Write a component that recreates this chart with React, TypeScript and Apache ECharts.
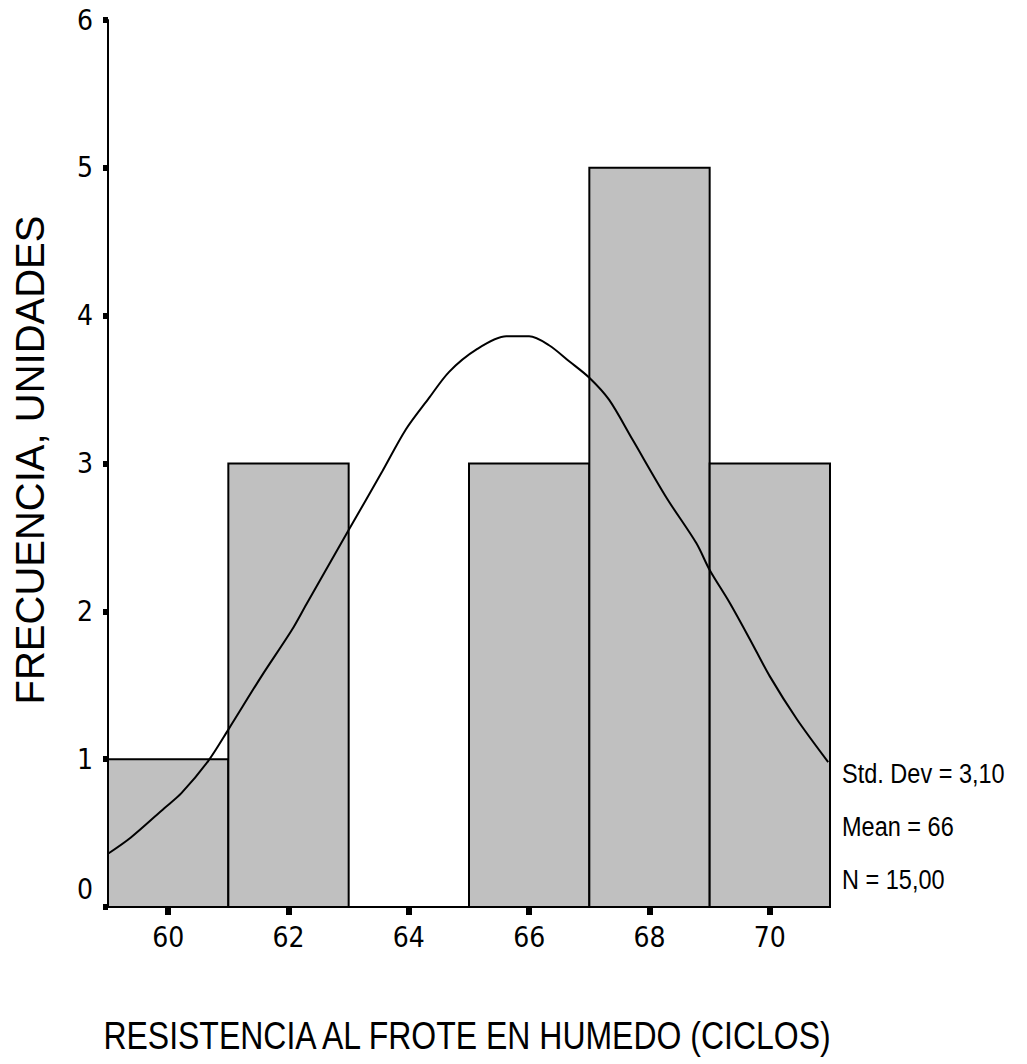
import React, { useEffect, useRef } from "react";
import * as echarts from "echarts";

// Histogram bins: [start, end]
const binStarts = [59, 61, 63, 65, 67, 69];
const binEnds = [61, 63, 65, 67, 69, 71];
const binCounts = [1, 3, 0, 3, 5, 3];

// Fitted normal curve
const curveX = [59.0, 59.38, 59.94, 60.22, 60.67, 61.0, 61.55, 62.05, 62.3, 63.0, 63.55, 63.95, 64.33, 64.67, 65.12, 65.62, 66.0, 66.33, 66.67, 67.0, 67.33, 67.72, 68.28, 68.78, 69.0, 69.33, 69.67, 70.0, 70.45, 70.97];
const curveY = [0.36, 0.47, 0.67, 0.77, 0.99, 1.2, 1.56, 1.87, 2.05, 2.55, 2.94, 3.23, 3.44, 3.62, 3.77, 3.86, 3.86, 3.8, 3.69, 3.58, 3.43, 3.16, 2.77, 2.46, 2.28, 2.06, 1.81, 1.56, 1.27, 0.98];

const xTicks = [60, 62, 64, 66, 68, 70];
const yTicks = [0, 1, 2, 3, 4, 5, 6];

const statsLines = ["Std. Dev = 3,10", "Mean = 66", "N = 15,00"];
const xTitle = "RESISTENCIA AL FROTE EN HUMEDO (CICLOS)";
const yTitle = "FRECUENCIA, UNIDADES";

const NARROW = "'Liberation Sans Narrow', 'Arial Narrow', 'DejaVu Sans Condensed', 'Liberation Sans', sans-serif";
const REGULAR = "'Liberation Sans', Arial, sans-serif";

export default function App() {
  const ref = useRef<HTMLDivElement>(null);
  useEffect(() => {
    if (!ref.current) return;
    const chart = echarts.init(ref.current, undefined, { renderer: "svg" });
    const barData = binStarts.map((s, i) => [s, binEnds[i], binCounts[i]]);
    const lineData = curveX.map((x, i) => [x, curveY[i]]);
    chart.setOption({
      animation: false,
      backgroundColor: "#ffffff",
      grid: { left: 108, right: 197, top: 20, bottom: 157, containLabel: false },
      xAxis: {
        type: "value",
        min: 59,
        max: 71,
        splitLine: { show: false },
        axisLine: { show: true, onZero: false, lineStyle: { color: "#000", width: 2 } },
        axisTick: { show: true, length: 8, customValues: xTicks, lineStyle: { color: "#000", width: 6 } },
        axisLabel: { customValues: xTicks, color: "#000", fontSize: 28, fontFamily: NARROW, margin: 16 },
      },
      yAxis: {
        type: "value",
        min: 0,
        max: 6,
        interval: 1,
        splitLine: { show: false },
        axisLine: { show: true, lineStyle: { color: "#000", width: 2 } },
        axisTick: { show: true, length: 5, lineStyle: { color: "#000", width: 6 } },
        axisLabel: {
          color: "#000",
          fontSize: 28,
          fontFamily: NARROW,
          margin: 15,
          formatter: (v: number) => (v === 0 ? "{z|0}" : yTicks.includes(v) ? String(v) : ""),
          rich: { z: { fontSize: 28, fontFamily: NARROW, color: "#000", padding: [0, 0, 36, 0] } },
        },
      },
      series: [
        {
          type: "custom",
          data: barData,
          z: 2,
          renderItem: (params: any, api: any) => {
            const s = api.value(0);
            const e = api.value(1);
            const c = api.value(2);
            if (!c) return null;
            const p0 = api.coord([s, c]);
            const p1 = api.coord([e, 0]);
            return {
              type: "rect",
              shape: { x: p0[0], y: p0[1], width: p1[0] - p0[0], height: p1[1] - p0[1] },
              style: { fill: "#c0c0c0", stroke: "#000", lineWidth: 2 },
            };
          },
          encode: { x: [0, 1], y: 2 },
        },
        {
          type: "line",
          data: lineData,
          z: 3,
          smooth: 0.3,
          showSymbol: false,
          symbol: "none",
          lineStyle: { color: "#000", width: 2 },
        },
      ],
      graphic: [
        {
          type: "text",
          x: 30,
          y: 460,
          rotation: Math.PI / 2,
          style: { text: yTitle, font: `40px ${REGULAR}`, fill: "#000", align: "center", verticalAlign: "middle" },
        },
        {
          type: "text",
          x: 467,
          y: 1036,
          scaleX: 0.82,
          style: { text: xTitle, font: `39px ${REGULAR}`, fill: "#000", align: "center", verticalAlign: "middle" },
        },
        ...statsLines.map((t, i) => ({
          type: "text",
          x: 842,
          y: 773 + i * 53,
          scaleX: 0.84,
          style: { text: t, font: `28px ${REGULAR}`, fill: "#000", align: "left", verticalAlign: "middle" },
        })),
      ],
    });
    return () => chart.dispose();
  }, []);
  return <div ref={ref} style={{ width: 1027, height: 1064, position: "absolute", left: 0, top: 0 }} />;
}
